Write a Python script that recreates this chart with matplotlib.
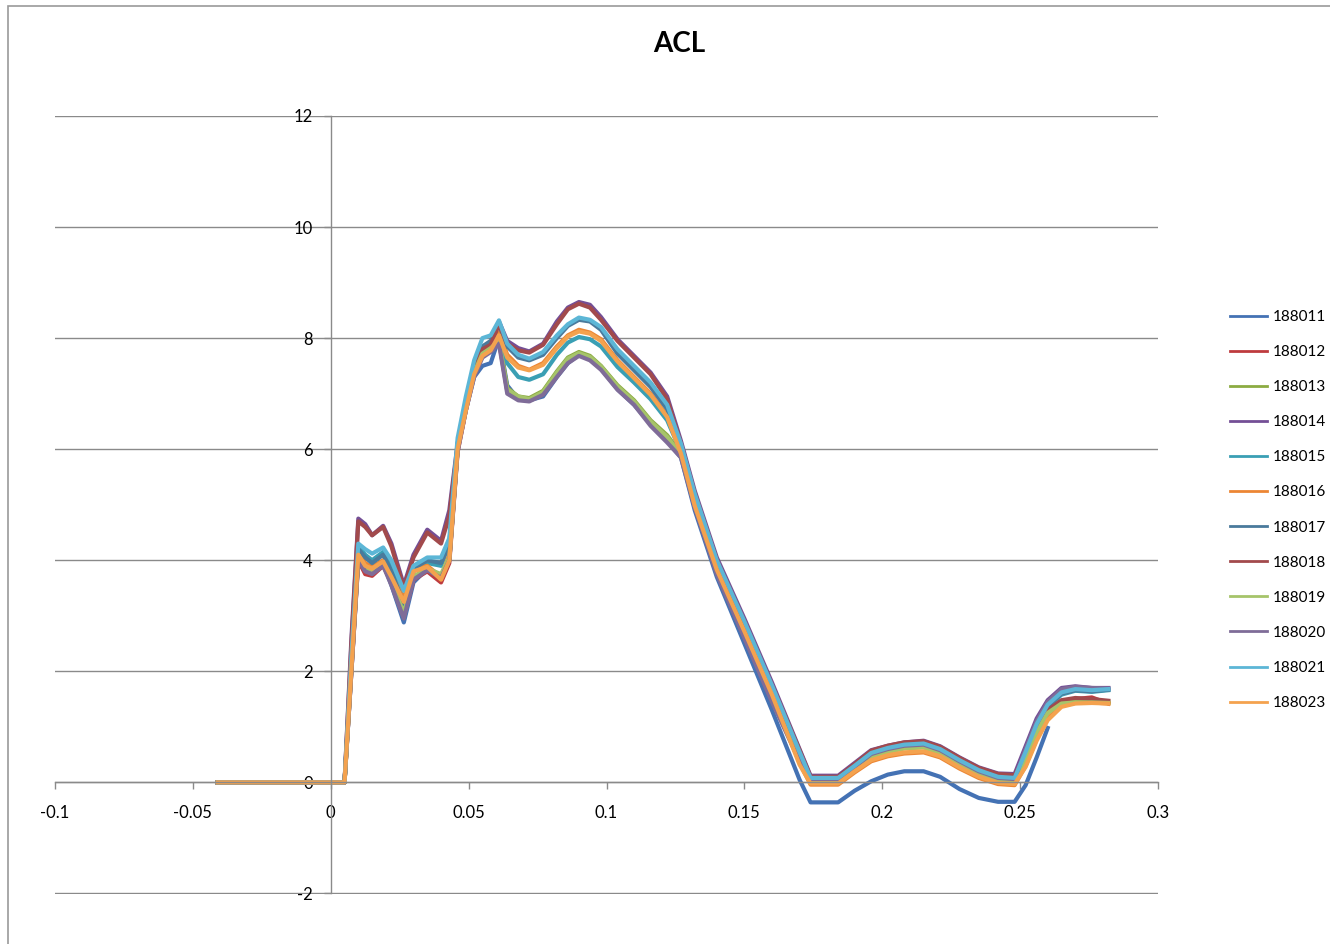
import numpy as np
import matplotlib
matplotlib.use('Agg')
import matplotlib.pyplot as plt
from matplotlib.patches import Rectangle

plt.rcParams['font.family'] = ['Lato', 'DejaVu Sans']
plt.rcParams['axes.unicode_minus'] = False

nan = np.nan

# sample positions shared by every trace
x = [-0.041, 0.005, 0.0075, 0.010, 0.0125, 0.015, 0.019, 0.022, 0.0265, 0.030,
     0.035, 0.040, 0.043, 0.046, 0.049, 0.052, 0.055, 0.058, 0.061, 0.064,
     0.068, 0.072, 0.077, 0.082, 0.086, 0.090, 0.094, 0.098, 0.104, 0.110,
     0.116, 0.122, 0.127, 0.132, 0.140, 0.150, 0.160, 0.170, 0.174, 0.184,
     0.190, 0.196, 0.202, 0.208, 0.215, 0.221, 0.228, 0.235, 0.242, 0.248,
     0.252, 0.256, 0.260, 0.265, 0.270, 0.276, 0.282]

s188011 = [0, 0, 2.0, 4.05, 3.8, 3.75, 3.95, 3.55, 2.88, 3.6,
           3.85, 3.7, 4.0, 6.0, 6.7, 7.3, 7.5, 7.55, 8.0, 7.15,
           6.9, 6.88, 6.95, 7.3, 7.55, 7.7, 7.62, 7.45, 7.08, 6.8,
           6.45, 6.15, 5.85, 4.9, 3.7, 2.5, 1.3, 0.05, -0.36, -0.36,
           -0.15, 0.02, 0.14, 0.2, 0.2, 0.1, -0.12, -0.28, -0.35, -0.35,
           -0.05, 0.45, 0.98, nan, nan, nan, nan]
s188012 = [0, 0, 2.0, 4.0, 3.75, 3.72, 3.9, 3.6, 3.0, 3.65,
           3.8, 3.6, 3.95, 5.95, 6.7, 7.35, 7.7, 7.8, 7.95, 7.05,
           6.92, 6.9, 7.0, 7.35, 7.6, 7.72, 7.65, 7.48, 7.12, 6.85,
           6.48, 6.2, 5.9, 5.0, 3.8, 2.65, 1.5, 0.4, 0.1, 0.1,
           0.32, 0.55, 0.64, 0.7, 0.72, 0.62, 0.42, 0.24, 0.13, 0.12,
           0.45, 0.95, 1.28, 1.45, 1.5, 1.53, 1.42]
s188013 = [0, 0, 2.05, 4.05, 3.85, 3.8, 3.95, 3.6, 3.0, 3.7,
           3.85, 3.7, 4.0, 6.0, 6.75, 7.4, 7.75, 7.85, 7.98, 7.1,
           6.95, 6.92, 7.05, 7.4, 7.65, 7.75, 7.68, 7.5, 7.15, 6.88,
           6.52, 6.25, 5.92, 5.02, 3.82, 2.68, 1.52, 0.42, 0.03, 0.03,
           0.25, 0.47, 0.56, 0.62, 0.64, 0.54, 0.34, 0.16, 0.04, 0.03,
           0.45, 0.95, 1.28, 1.44, 1.45, 1.45, 1.44]
s188014 = [0, 0, 2.6, 4.75, 4.65, 4.45, 4.62, 4.3, 3.55, 4.1,
           4.55, 4.35, 4.9, 6.1, 6.8, 7.5, 7.85, 7.9, 8.3, 7.95,
           7.82, 7.76, 7.9, 8.3, 8.55, 8.65, 8.6, 8.38, 7.98, 7.68,
           7.38, 6.95, 6.15, 5.25, 4.05, 2.95, 1.8, 0.6, 0.12, 0.12,
           0.35, 0.58, 0.66, 0.72, 0.75, 0.65, 0.45, 0.27, 0.16, 0.15,
           0.65, 1.15, 1.48, 1.7, 1.73, 1.7, 1.7]
s188015 = [0, 0, 2.2, 4.25, 4.1, 4.0, 4.15, 3.85, 3.3, 3.8,
           3.95, 3.9, 4.3, 6.05, 6.8, 7.45, 7.75, 7.85, 8.1, 7.55,
           7.3, 7.25, 7.35, 7.7, 7.92, 8.02, 7.98, 7.85, 7.48, 7.2,
           6.9, 6.52, 5.95, 5.1, 3.95, 2.85, 1.7, 0.5, 0.05, 0.05,
           0.27, 0.5, 0.58, 0.64, 0.66, 0.56, 0.36, 0.18, 0.06, 0.05,
           0.5, 1.0, 1.35, 1.58, 1.65, 1.63, 1.66]
s188016 = [0, 0, 2.1, 4.12, 3.95, 3.88, 4.0, 3.75, 3.3, 3.85,
           3.9, 3.7, 4.1, 6.0, 6.75, 7.4, 7.7, 7.8, 8.1, 7.7,
           7.5, 7.43, 7.55, 7.85, 8.05, 8.15, 8.1, 7.98, 7.6, 7.3,
           7.0, 6.6, 5.95, 5.0, 3.85, 2.75, 1.6, 0.35, -0.04, -0.04,
           0.18, 0.38, 0.47, 0.52, 0.54, 0.45, 0.25, 0.08, -0.03, -0.05,
           0.3, 0.78, 1.15, 1.38, 1.43, 1.44, 1.42]
s188017 = [0, 0, 2.2, 4.2, 4.05, 3.95, 4.1, 3.8, 3.2, 3.85,
           4.0, 3.95, 4.3, 6.1, 6.85, 7.5, 7.85, 7.95, 8.25, 7.85,
           7.65, 7.6, 7.7, 8.0, 8.22, 8.33, 8.3, 8.15, 7.72, 7.42,
           7.12, 6.72, 6.05, 5.12, 3.95, 2.85, 1.7, 0.5, 0.07, 0.07,
           0.28, 0.52, 0.6, 0.66, 0.68, 0.58, 0.38, 0.2, 0.08, 0.06,
           0.5, 1.0, 1.38, 1.6, 1.66, 1.64, 1.67]
s188018 = [0, 0, 2.5, 4.7, 4.6, 4.45, 4.6, 4.25, 3.5, 4.05,
           4.5, 4.3, 4.8, 6.05, 6.8, 7.45, 7.8, 7.88, 8.25, 7.9,
           7.78, 7.74, 7.88, 8.25, 8.52, 8.62, 8.55, 8.33, 7.95, 7.65,
           7.35, 6.9, 6.1, 5.2, 4.0, 2.9, 1.75, 0.58, 0.1, 0.1,
           0.33, 0.57, 0.66, 0.72, 0.74, 0.64, 0.44, 0.26, 0.15, 0.13,
           0.5, 0.98, 1.3, 1.48, 1.52, 1.5, 1.47]
s188019 = [0, 0, 2.05, 4.1, 3.85, 3.8, 3.95, 3.6, 3.05, 3.7,
           3.85, 3.75, 4.05, 6.0, 6.72, 7.38, 7.72, 7.82, 7.95, 7.08,
           6.95, 6.9, 7.03, 7.38, 7.63, 7.73, 7.66, 7.49, 7.13, 6.86,
           6.5, 6.22, 5.9, 5.0, 3.8, 2.66, 1.5, 0.4, 0.02, 0.02,
           0.24, 0.46, 0.55, 0.61, 0.63, 0.53, 0.33, 0.15, 0.03, 0.02,
           0.42, 0.9, 1.25, 1.42, 1.44, 1.44, 1.43]
s188020 = [0, 0, 2.0, 4.0, 3.8, 3.75, 3.9, 3.55, 2.95, 3.65,
           3.82, 3.68, 4.0, 5.95, 6.7, 7.3, 7.65, 7.75, 7.9, 7.0,
           6.88, 6.86, 6.98, 7.3, 7.55, 7.68, 7.6, 7.43, 7.07, 6.8,
           6.42, 6.12, 5.85, 4.95, 3.75, 2.6, 1.45, 0.38, 0.06, 0.06,
           0.28, 0.51, 0.6, 0.66, 0.68, 0.58, 0.38, 0.2, 0.08, 0.06,
           0.6, 1.1, 1.45, 1.68, 1.72, 1.7, 1.69]
s188021 = [0, 0, 2.3, 4.3, 4.2, 4.12, 4.23, 4.0, 3.45, 3.9,
           4.05, 4.05, 4.4, 6.2, 6.95, 7.6, 8.0, 8.05, 8.32, 7.9,
           7.7, 7.63, 7.75, 8.05, 8.25, 8.37, 8.33, 8.2, 7.8, 7.5,
           7.2, 6.8, 6.1, 5.2, 4.0, 2.9, 1.75, 0.55, 0.08, 0.08,
           0.3, 0.53, 0.62, 0.68, 0.7, 0.6, 0.4, 0.22, 0.1, 0.08,
           0.55, 1.05, 1.4, 1.62, 1.68, 1.66, 1.68]
s188023 = [0, 0, 2.05, 4.1, 3.9, 3.85, 3.98, 3.7, 3.25, 3.8,
           3.88, 3.65, 4.0, 6.0, 6.7, 7.35, 7.68, 7.78, 8.05, 7.65,
           7.47, 7.42, 7.52, 7.82, 8.03, 8.12, 8.08, 7.95, 7.58, 7.28,
           6.98, 6.58, 5.92, 4.98, 3.83, 2.72, 1.58, 0.32, -0.02, -0.02,
           0.2, 0.4, 0.49, 0.54, 0.56, 0.47, 0.27, 0.1, -0.01, -0.03,
           0.28, 0.75, 1.12, 1.36, 1.42, 1.43, 1.42]

labels = ['188011', '188012', '188013', '188014', '188015', '188016',
          '188017', '188018', '188019', '188020', '188021', '188023']
series = [s188011, s188012, s188013, s188014, s188015, s188016,
          s188017, s188018, s188019, s188020, s188021, s188023]
colors = ['#4472b4', '#be3b3e', '#8cab42', '#744f96', '#3a9fb4', '#ec8634',
          '#4a7a9c', '#a24a4c', '#a6c46a', '#7f6c98', '#5cb6d6', '#f4a24e']

fig = plt.figure(figsize=(13.3, 9.44), dpi=100)
ax = fig.add_axes([55 / 1330, 1 - 894 / 944, (1158 - 55) / 1330, (894 - 116) / 944])

for s, c, lab in zip(series, colors, labels):
    ax.plot(x, s, color=c, lw=3.0, label=lab, solid_joinstyle='round')

ax.set_xlim(-0.1, 0.3)
ax.set_ylim(-2.01, 12)
ax.set_xticks([-0.1, -0.05, 0, 0.05, 0.1, 0.15, 0.2, 0.25, 0.3])
ax.set_xticklabels(['-0.1', '-0.05', '0', '0.05', '0.1', '0.15', '0.2', '0.25', '0.3'])
ax.set_yticks([-2, 0, 2, 4, 6, 8, 10, 12])

# axes cross at the origin, grey gridlines like a spreadsheet chart
ax.spines['left'].set_position(('data', 0))
ax.spines['bottom'].set_position(('data', 0))
ax.spines['top'].set_visible(False)
ax.spines['right'].set_visible(False)
for sp in ['left', 'bottom']:
    ax.spines[sp].set_color('#8a8a8a')
    ax.spines[sp].set_linewidth(1.0)
ax.spines['left'].set_bounds(-2, 12)
ax.yaxis.grid(True, color='#8a8a8a', lw=1.0)
ax.set_axisbelow(True)
ax.tick_params(axis='x', direction='out', length=5, width=1, color='#8a8a8a', pad=11, labelsize=12)
ax.tick_params(axis='y', direction='out', length=5, width=1, color='#8a8a8a', pad=8, labelsize=12)

fig.text(679 / 1330, 1 - 44 / 944, 'ACL', ha='center', va='center', fontsize=20, fontweight='bold')

leg = ax.legend(loc='center left', bbox_to_anchor=(1230 / 1330, 1 - 510 / 944),
                bbox_transform=fig.transFigure, frameon=False, fontsize=11,
                handlelength=2.4, handletextpad=0.4, labelspacing=1.38,
                borderpad=0, borderaxespad=0)
for h in leg.get_lines():
    h.set_linewidth(2.0)

fig.add_artist(Rectangle((8 / 1330, -0.1), 1.2, 1.1 - 6 / 944, fill=False,
                         edgecolor='#9a9a9a', lw=1.2, transform=fig.transFigure))

plt.savefig('out.png', dpi=100)
